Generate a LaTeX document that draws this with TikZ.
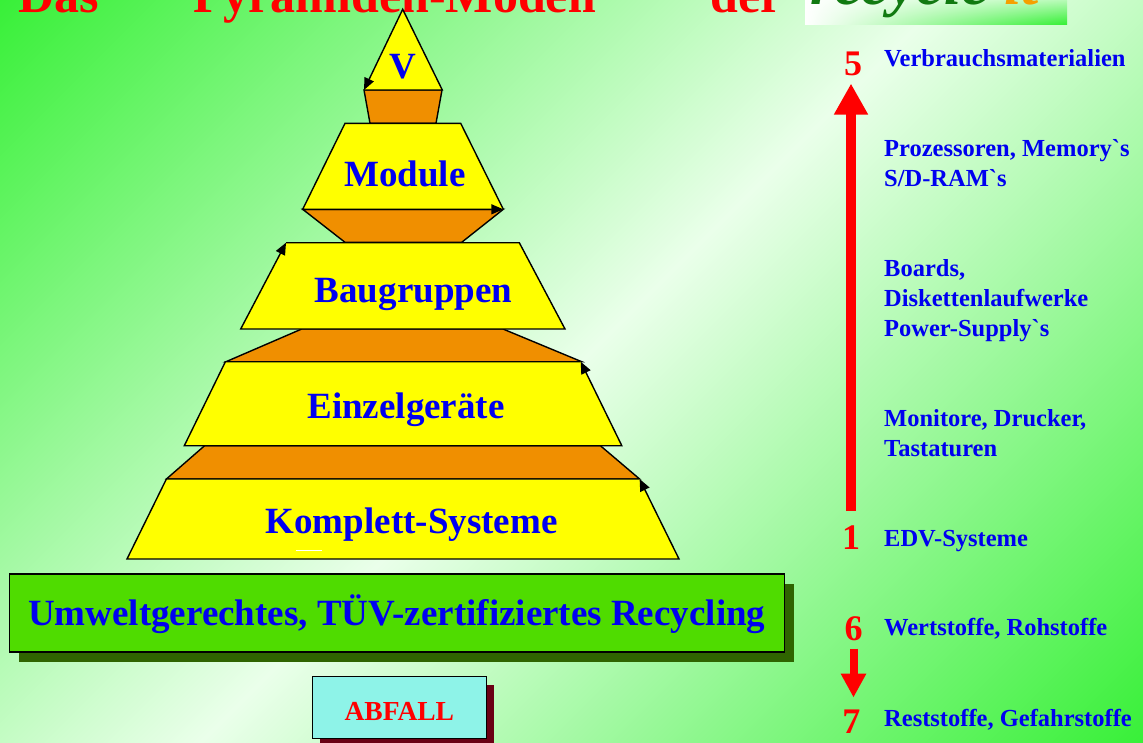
\documentclass[tikz,border=0pt]{standalone}
\usepackage{fontspec}
\setmainfont{Liberation Serif}[Ligatures=TeXOff]
\usetikzlibrary{arrows.meta,shadows,shadings}
\definecolor{bggreen}{HTML}{38F038}
\definecolor{bglight}{HTML}{EAFFEA}
\definecolor{pyryellow}{HTML}{FFFF00}
\definecolor{pyrorange}{HTML}{F08F00}
\definecolor{txtblue}{HTML}{0000F0}
\definecolor{boxgreen}{HTML}{4FDC00}
\definecolor{shadowgreen}{HTML}{2F6400}
\definecolor{wastecyan}{HTML}{8EF3E8}
\definecolor{shadowred}{HTML}{6A0014}
\definecolor{logogreen}{HTML}{117A11}
\definecolor{logoorange}{HTML}{F5A000}

\begin{document}
\begin{tikzpicture}[x=1pt, y=-1pt, line join=miter,
  pyrslab/.style={fill=pyryellow},
  pyrring/.style={fill=pyrorange, draw=black, line width=1.4pt},
  slabedge/.style={draw=black, line width=1.4pt, -{Triangle[length=12pt,width=10pt]}},
  pyrtext/.style={font=\bfseries\fontsize{37}{40}\selectfont, text=txtblue, anchor=base, inner sep=0pt},
  sidetext/.style={font=\bfseries\fontsize{24.5}{30}\selectfont, text=txtblue, anchor=base west, align=left, inner sep=0pt},
  stepnum/.style={font=\bfseries\fontsize{36}{40}\selectfont, text=red, anchor=base, inner sep=0pt},
  titletext/.style={font=\bfseries\fontsize{50}{55}\selectfont, text=red, anchor=base west, inner sep=0pt},
  flowarrow/.style={draw=red}]
  \useasboundingbox (0,0) rectangle (1143,742);
  \clip (0,0) rectangle (1143,742);
  \shade[top color=bggreen, bottom color=bggreen, middle color=bglight, shading angle=45] (-200,-200) rectangle (1343,942);

  % title, cut at the top
  \node[titletext] (tdas) at (18,12) {Das};
  \node[titletext] (tmodel) at (168,12) {“Pyramiden-Modell”};
  \node[titletext] (tder) at (710,12) {der};
  \shade[upper left=white, upper right=bglight, lower left=white, lower right=bggreen] (805,-10) rectangle (1067,24);
  \node[font=\bfseries\itshape\fontsize{62}{66}\selectfont, anchor=base west, inner sep=0pt] (tlogo) at (810,4) {\color{logogreen}recycle \color{logoorange}it};

  % pyramid
  \filldraw[pyrring] (364,90) -- (442,90) -- (436,123.3) -- (370,123.3) -- cycle;
  \filldraw[pyrring] (302.7,209.3) -- (503.3,209.3) -- (461.7,242.3) -- (345,242.3) -- cycle;
  \filldraw[pyrring] (301.7,329) -- (503,329) -- (581.7,361.7) -- (226,361.7) -- cycle;
  \filldraw[pyrring] (204.6,445.7) -- (600.4,445.7) -- (639.6,479) -- (166.4,479) -- cycle;

  \fill[pyrslab] (364,90) -- (442.3,90) -- (402.7,9.3) -- cycle;
  \draw[slabedge] (364,90) -- (442.3,90) -- (402.7,9.3) -- (364,90);
  \fill[pyrslab] (345,123.3) -- (460.7,123.3) -- (503.3,209.3) -- (302.7,209.3) -- cycle;
  \draw[slabedge] (503.3,209.3) -- (460.7,123.3) -- (345,123.3) -- (302.7,209.3) -- (503.3,209.3);
  \fill[pyrslab] (286,242.7) -- (519.3,242.7) -- (565,329) -- (240.7,329) -- cycle;
  \draw[slabedge] (286,242.7) -- (519.3,242.7) -- (565,329) -- (240.7,329) -- (286,242.7);
  \fill[pyrslab] (225.4,361.7) -- (580.7,361.7) -- (621.8,445.7) -- (184.3,445.7) -- cycle;
  \draw[slabedge] (580.7,361.7) -- (225.4,361.7) -- (184.3,445.7) -- (621.8,445.7) -- (580.7,361.7);
  \fill[pyrslab] (166.4,479) -- (639.6,479) -- (679,559) -- (127,559) -- cycle;
  \draw[slabedge] (639.6,479) -- (166.4,479) -- (127,559) -- (679,559) -- (639.6,479);
  \draw[white, line width=1pt] (296,550) -- (322,550);

  \node[pyrtext] (pv) at (402.5,78) {V};
  \node[pyrtext] (pmodule) at (405,186.7) {Module};
  \node[pyrtext] (pbaugr) at (413.5,302.7) {Baugruppen};
  \node[pyrtext] (peinzel) at (406,418) {Einzelgeräte};
  \node[pyrtext] (pkompl) at (411.6,533.3) {Komplett-Systeme};

  % recycling and waste
  \node[fill=boxgreen, draw=black, line width=1.4pt, minimum width=775pt, minimum height=78pt, inner sep=0pt,
    font=\bfseries\fontsize{37}{40}\selectfont, text=txtblue, text height=25pt, text depth=0pt,
    drop shadow={shadow xshift=10pt, shadow yshift=-10pt, fill=shadowgreen, opacity=1}] (recy) at (396.7,612.9)
    {Umweltgerechtes, TÜV-zertifiziertes Recycling};
  \node[fill=wastecyan, draw=black, line width=1.4pt, minimum width=174pt, minimum height=61.6pt, inner sep=0pt,
    font=\bfseries\fontsize{27.5}{30}\selectfont, text=red, text height=26pt, text depth=0pt,
    drop shadow={shadow xshift=8pt, shadow yshift=-8pt, fill=shadowred, opacity=1}] (abfall) at (399.3,707.5) {ABFALL};

  % steps on the right
  \node[stepnum] (n5) at (853,75) {5};
  \node[stepnum] (n1) at (851,549) {1};
  \node[stepnum] (n6) at (853.5,640) {6};
  \node[stepnum] (n7) at (851.3,733.3) {7};
  \draw[flowarrow, line width=10pt, -{Triangle[length=31pt,width=32pt]}, shorten <=14pt, shorten >=8pt]
    (n1.north) -- (n1.north |- n5.south);
  \draw[flowarrow, line width=8pt, -{Triangle[length=24pt,width=24pt]}, shorten <=8pt, shorten >=12pt]
    (n6.south) -- (n6.south |- n7.north);

  \node[sidetext] (l5) at (884,66.7) {Verbrauchsmaterialien};
  \node[sidetext] (l4) at (884,186.7) {Prozessoren, Memory`s\\S/D-RAM`s};
  \node[sidetext] (l3) at (884,336.7) {Boards,\\Diskettenlaufwerke\\Power-Supply`s};
  \node[sidetext] (l2) at (884,456.7) {Monitore, Drucker,\\Tastaturen};
  \node[sidetext] (l1) at (884,546.7) {EDV-Systeme};
  \node[sidetext] (l6) at (884,635) {Wertstoffe, Rohstoffe};
  \node[sidetext] (l7) at (884,726) {Reststoffe, Gefahrstoffe};
\end{tikzpicture}
\end{document}
